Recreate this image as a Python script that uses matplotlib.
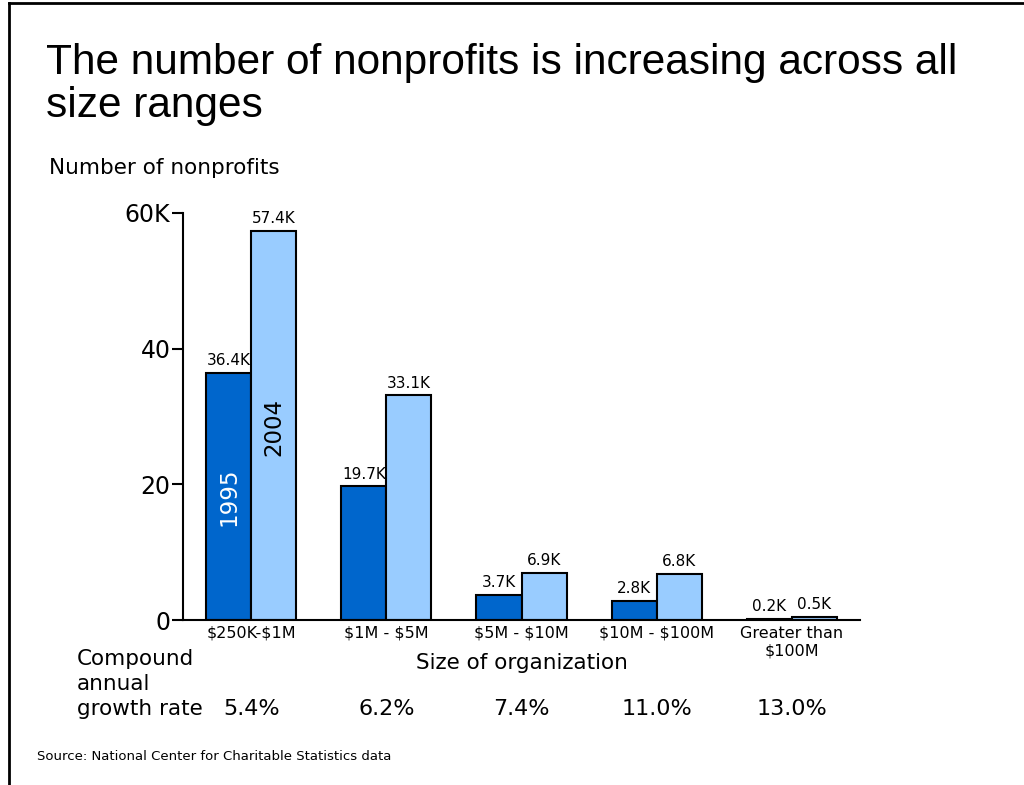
import matplotlib
matplotlib.use("Agg")
import matplotlib.pyplot as plt
from matplotlib.lines import Line2D

categories = ["\\$250K-\\$1M", "\\$1M - \\$5M", "\\$5M - \\$10M", "\\$10M - \\$100M", "Greater than\n\\$100M"]
values_1995 = [36.4, 19.7, 3.7, 2.8, 0.2]
values_2004 = [57.4, 33.1, 6.9, 6.8, 0.5]
growth_rates = ["5.4%", "6.2%", "7.4%", "11.0%", "13.0%"]
yticks = [0, 20, 40, 60]
ytick_labels = ["0", "20", "40", "60K"]
cagr_label_lines = ["Compound", "annual", "growth rate"]

dark = "#0066CC"
light = "#99CCFF"

fig = plt.figure(figsize=(10.24, 7.85), dpi=100)
ax = fig.add_axes([183/1024, 1-620/785, (860-183)/1024, (620-213)/785])

w = 1/3
x = list(range(len(categories)))
ax.bar([i - w/2 for i in x], values_1995, width=w, color=dark, edgecolor="black", linewidth=1.5)
ax.bar([i + w/2 for i in x], values_2004, width=w, color=light, edgecolor="black", linewidth=1.5)

for i, v in enumerate(values_1995):
    ax.text(i - w/2, v + 0.7, f"{v:.1f}K", ha="center", va="bottom", fontsize=11)
for i, v in enumerate(values_2004):
    ax.text(i + w/2, v + 0.7, f"{v:.1f}K", ha="center", va="bottom", fontsize=11)

ax.text(0 - w/2, 18.1, "1995", rotation=90, ha="center", va="center", color="white", fontsize=16.5)
ax.text(0 + w/2, 28.5, "2004", rotation=90, ha="center", va="center", color="black", fontsize=16.5)

ax.set_xlim(-0.507, 4.507)
ax.set_ylim(0, 60)
ax.set_yticks(yticks)
ax.set_yticklabels(ytick_labels, fontsize=17)
ax.set_xticks(x)
ax.set_xticklabels(categories, fontsize=11.5, va="top", linespacing=1.25)
ax.tick_params(axis="x", length=0, pad=4)
ax.tick_params(axis="y", length=8, width=1.5, direction="out", pad=1)
for s in ["top", "right"]:
    ax.spines[s].set_visible(False)
ax.spines["left"].set_linewidth(1.5)
ax.spines["bottom"].set_linewidth(1.5)

# growth rates
for i, g in enumerate(growth_rates):
    ax.annotate(g, xy=(i, 0), xycoords="data", xytext=(0, -(715-620)*0.72), textcoords="offset points",
                ha="center", va="baseline", fontsize=16)

fig.text(522/1024, 1-663/785, "Size of organization", ha="center", va="center", fontsize=15.5)
for k, line in enumerate(cagr_label_lines):
    fig.text(77/1024, 1-(665+25*k)/785, line, ha="left", va="baseline", fontsize=15.5)

fig.text(46/1024, 1-74/785, "The number of nonprofits is increasing across all",
         ha="left", va="baseline", fontsize=30.5, family="Liberation Sans")
fig.text(46/1024, 1-117/785, "size ranges",
         ha="left", va="baseline", fontsize=30.5, family="Liberation Sans")
fig.text(49/1024, 1-168/785, "Number of nonprofits", ha="left", va="center", fontsize=15.5)
fig.text(37/1024, 1-756/785, "Source: National Center for Charitable Statistics data", ha="left",
         va="center", fontsize=9.5)

# border lines
fig.add_artist(Line2D([9/1024, 9/1024], [0, 1-3/785], color="black", linewidth=2, transform=fig.transFigure))
fig.add_artist(Line2D([9/1024, 1], [1-3/785, 1-3/785], color="black", linewidth=2, transform=fig.transFigure))

fig.savefig("out.png", dpi=100)
